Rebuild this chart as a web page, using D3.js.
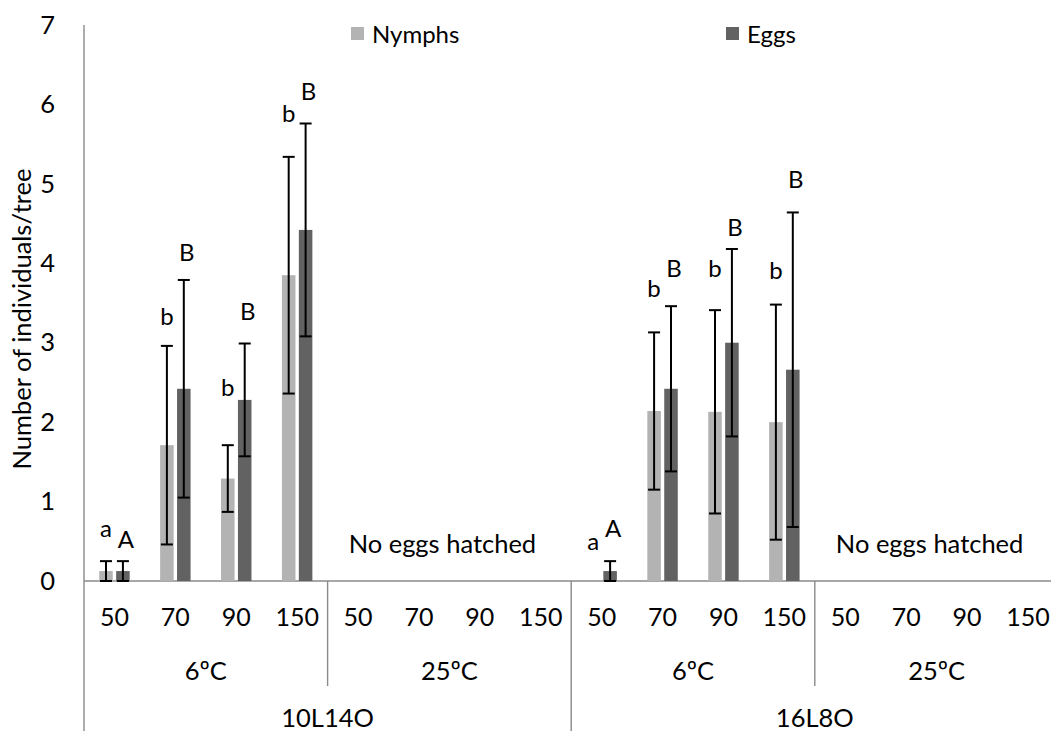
<!DOCTYPE html>
<html>
<head>
<meta charset="utf-8">
<script src="https://cdn.jsdelivr.net/npm/d3@7"></script>
<style>
  html, body { margin: 0; padding: 0; background: #fff; }
  svg { display: block; font-family: Lato, "Open Sans", sans-serif; }
</style>
</head>
<body>
<svg id="chart" width="1051" height="731"></svg>
<script>
// Density (trees) for each of the 16 categories, grouped by temperature and photoperiod
const doses = ["50", "70", "90", "150", "50", "70", "90", "150",
               "50", "70", "90", "150", "50", "70", "90", "150"];
const temperatures = ["6ºC", "25ºC", "6ºC", "25ºC"];
const photoperiods = ["10L14O", "16L8O"];
const seriesNames = ["Nymphs", "Eggs"];

// Mean number of individuals per tree and their error (±)
const nymphs   = [0.125, 1.71, 1.29, 3.85, 0, 0, 0, 0, 0, 2.14, 2.13, 2.0, 0, 0, 0, 0];
const nymphErr = [0.125, 1.25, 0.42, 1.49, 0, 0, 0, 0, 0, 0.99, 1.28, 1.48, 0, 0, 0, 0];
const eggs     = [0.125, 2.42, 2.28, 4.42, 0, 0, 0, 0, 0.125, 2.42, 3.0, 2.66, 0, 0, 0, 0];
const eggErr   = [0.125, 1.37, 0.71, 1.34, 0, 0, 0, 0, 0.125, 1.04, 1.18, 1.98, 0, 0, 0, 0];

// Significance letters
const nymphLetters = ["a", "b", "b", "b", "", "", "", "", "a", "b", "b", "b", "", "", "", ""];
const eggLetters   = ["A", "B", "B", "B", "", "", "", "", "A", "B", "B", "B", "", "", "", ""];

const noHatchNote = "No eggs hatched";
const yTicks = [0, 1, 2, 3, 4, 5, 6, 7];
const yTitle = "Number of individuals/tree";

// ---- layout ----
const W = 1051, H = 731;
const plotLeft = 84, plotTop = 25, plotBase = 581;
const catStep = 60.9;
const fontSize = 25.5;
const smallFont = 24;
const colors = { Nymphs: "#b3b3b3", Eggs: "#626262" };
const axisColor = "#8a8a8a";
// pixel gap between error-bar cap and its letter
const nymphGap = [34, 30, 59, 44, 0, 0, 0, 0, 41, 45, 43, 35, 0, 0, 0, 0];
const eggGap   = [23, 28, 33, 33, 0, 0, 0, 0, 34, 39, 22, 34, 0, 0, 0, 0];

const svg = d3.select("#chart");

const y = d3.scaleLinear().domain([0, 7]).range([plotBase, plotTop]);
const x0 = d3.scaleBand()
  .domain(d3.range(doses.length))
  .range([plotLeft, plotLeft + doses.length * catStep])
  .paddingInner(0.5).paddingOuter(0.25);
const x1 = d3.scaleBand()
  .domain(seriesNames)
  .range([0, x0.bandwidth()])
  .paddingInner(0.2);

// y axis: line only, labels at the left
const yAxis = d3.axisLeft(y).tickValues(yTicks).tickSize(0).tickPadding(29).tickFormat(d3.format("d"));
const gy = svg.append("g").attr("transform", `translate(${plotLeft},0)`).call(yAxis);
gy.select(".domain").remove();
gy.selectAll("text").attr("font-size", fontSize).attr("fill", "#000").attr("font-family", "Lato");
svg.append("line")
  .attr("x1", plotLeft).attr("x2", plotLeft).attr("y1", plotTop).attr("y2", H)
  .attr("stroke", axisColor).attr("stroke-width", 1.4);

svg.append("text")
  .attr("transform", `translate(21,${319}) rotate(-90)`)
  .attr("text-anchor", "middle").attr("dominant-baseline", "central")
  .attr("font-size", fontSize).attr("fill", "#000")
  .text(yTitle);

// category axis with three levels
svg.append("line")
  .attr("x1", plotLeft).attr("x2", W).attr("y1", plotBase).attr("y2", plotBase)
  .attr("stroke", axisColor).attr("stroke-width", 1.4);

const gx = svg.append("g").attr("font-size", fontSize).attr("fill", "#000").attr("text-anchor", "middle");
gx.selectAll("text.dose").data(doses).join("text")
  .attr("class", "dose")
  .attr("x", (d, i) => x0(i) + x0.bandwidth() / 2)
  .attr("y", 616).attr("dominant-baseline", "central")
  .attr("font-size", 25)
  .text(d => d);

const tempStart = i => x0(i * 4) - x0.step() * x0.paddingOuter();
const tempWidth = 4 * catStep;
gx.selectAll("text.temp").data(temperatures).join("text")
  .attr("class", "temp")
  .attr("x", (d, i) => tempStart(i) + tempWidth / 2)
  .attr("y", 670).attr("dominant-baseline", "central")
  .text(d => d);

gx.selectAll("text.photo").data(photoperiods).join("text")
  .attr("class", "photo")
  .attr("x", (d, i) => tempStart(i * 2) + tempWidth)
  .attr("y", 717).attr("dominant-baseline", "central")
  .text(d => d);

// separators between temperature groups (short) and photoperiod groups (full)
temperatures.forEach((t, i) => {
  if (i === 0) return;
  const xs = tempStart(i);
  svg.append("line")
    .attr("x1", xs).attr("x2", xs).attr("y1", plotBase)
    .attr("y2", i % 2 === 0 ? H : 686)
    .attr("stroke", axisColor).attr("stroke-width", 1.4);
});

// bars
const rows = doses.map((d, i) => ({ i, Nymphs: nymphs[i], Eggs: eggs[i],
  errN: nymphErr[i], errE: eggErr[i] }));

const bars = svg.append("g");
seriesNames.forEach(s => {
  bars.selectAll(null).data(rows.filter(r => r[s] > 0)).join("rect")
    .attr("x", r => x0(r.i) + x1(s))
    .attr("y", r => y(r[s]))
    .attr("width", x1.bandwidth())
    .attr("height", r => y(0) - y(r[s]))
    .attr("fill", colors[s]);
});

// error bars
const errs = svg.append("g").attr("stroke", "#000").attr("stroke-width", 2).attr("fill", "none");
seriesNames.forEach(s => {
  const errKey = s === "Nymphs" ? "errN" : "errE";
  rows.filter(r => r[errKey] > 0).forEach(r => {
    const cx = x0(r.i) + x1(s) + x1.bandwidth() / 2;
    const hi = y(r[s] + r[errKey]);
    const lo = y(Math.max(0, r[s] - r[errKey]));
    errs.append("line").attr("x1", cx).attr("x2", cx).attr("y1", hi).attr("y2", lo);
    errs.append("line").attr("x1", cx - 6).attr("x2", cx + 6).attr("y1", hi).attr("y2", hi);
    errs.append("line").attr("x1", cx - 6).attr("x2", cx + 6).attr("y1", lo).attr("y2", lo);
  });
});

// significance letters
const letters = svg.append("g").attr("font-size", smallFont).attr("fill", "#000").attr("text-anchor", "middle");
rows.forEach(r => {
  if (nymphLetters[r.i]) {
    letters.append("text")
      .attr("x", x0(r.i) + x1("Nymphs") + x1.bandwidth() / 2)
      .attr("y", y(r.Nymphs + r.errN) - nymphGap[r.i])
      .attr("dominant-baseline", "central")
      .text(nymphLetters[r.i]);
  }
  if (eggLetters[r.i]) {
    letters.append("text")
      .attr("x", x0(r.i) + x1("Eggs") + x1.bandwidth() / 2 + 3)
      .attr("y", y(r.Eggs + r.errE) - eggGap[r.i])
      .attr("dominant-baseline", "central")
      .text(eggLetters[r.i]);
  }
});

// note over the 25ºC groups
[1, 3].forEach(g => {
  svg.append("text")
    .attr("x", tempStart(g) + tempWidth / 2 - 7)
    .attr("y", 543).attr("dominant-baseline", "central")
    .attr("text-anchor", "middle").attr("font-size", fontSize).attr("fill", "#000")
    .text(noHatchNote);
});

// legend
const legendX = [351, 726];
seriesNames.forEach((s, i) => {
  svg.append("rect").attr("x", legendX[i]).attr("y", 27).attr("width", 13).attr("height", 13)
    .attr("fill", colors[s]);
  svg.append("text").attr("x", legendX[i] + 21).attr("y", 33)
    .attr("dominant-baseline", "central").attr("font-size", smallFont).attr("fill", "#000")
    .text(s);
});
</script>
</body>
</html>
